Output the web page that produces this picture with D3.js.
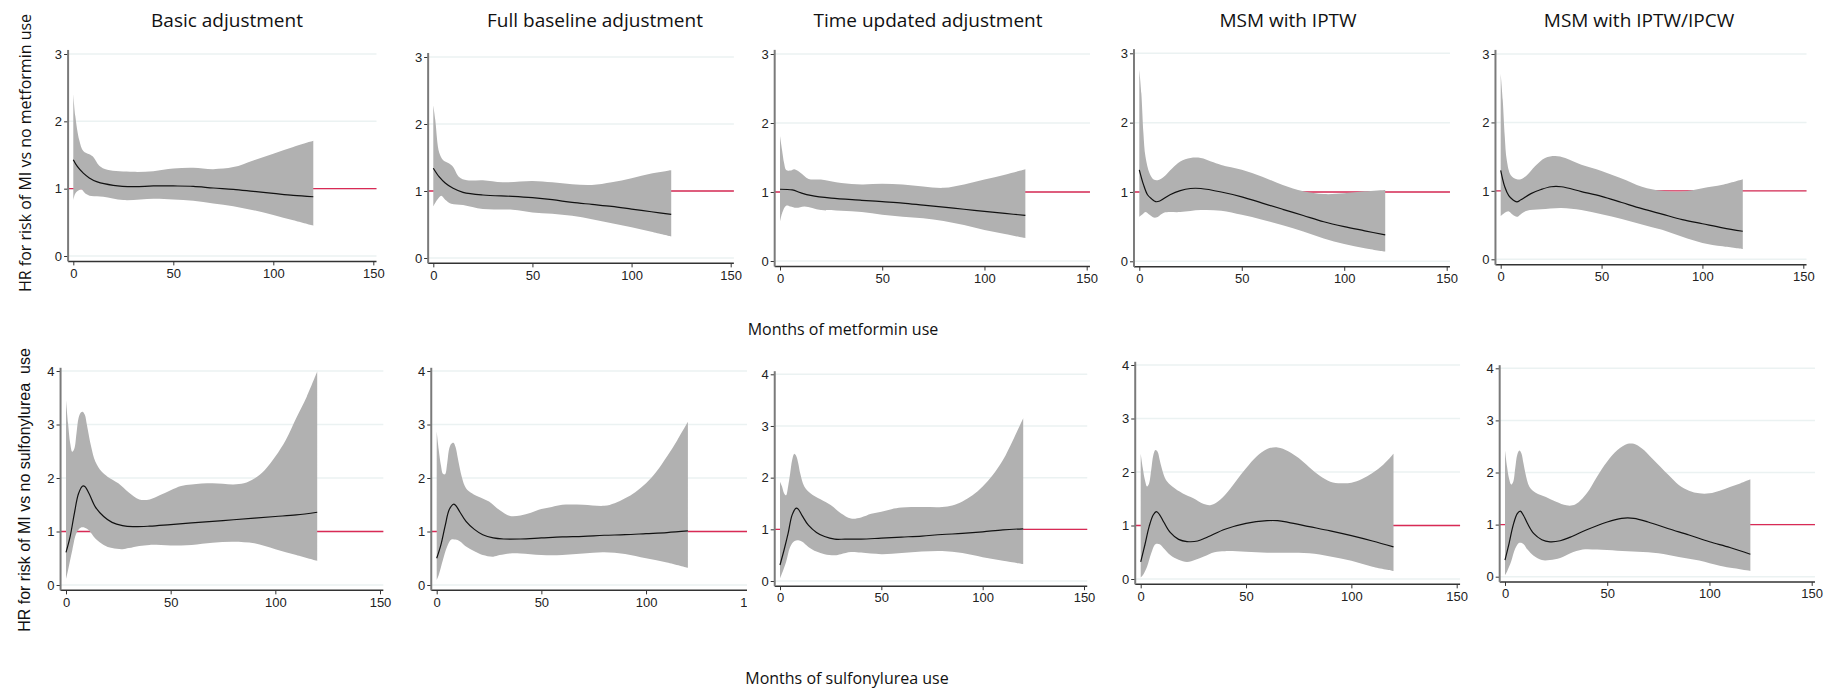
<!DOCTYPE html>
<html><head><meta charset="utf-8">
<script src="https://cdn.jsdelivr.net/npm/d3@7"></script>
<style>body{margin:0;background:#fff}svg{display:block}</style>
</head><body>
<svg id="c" width="1836" height="694"></svg>
<script>
// ---------- DATA ----------
const titles = ["Basic adjustment","Full baseline adjustment","Time updated adjustment","MSM with IPTW","MSM with IPTW/IPCW"];
const xTicks = [0,50,100,150];
const yTicksTop = [0,1,2,3];
const yTicksBottom = [0,1,2,3,4];
const yLabelTop = "HR for risk of MI vs no metformin use";
const yLabelBottom = "HR for risk of MI vs no sulfonylurea  use";
const xLabelTop = "Months of metformin use";
const xLabelBottom = "Months of sulfonylurea use";
const refHR = 1;

// Metformin – Basic adjustment
const metBasicHi = [[0,2.41],[1,2.08],[3,1.72],[5,1.56],[8,1.51],[10,1.47],[13,1.34],[17,1.28],[30,1.25],[40,1.26],[50,1.30],[60,1.31],[70,1.29],[80,1.32],[90,1.42],[100,1.52],[110,1.62],[120,1.71]];
const metBasicLo = [[0,0.83],[1,0.93],[3,0.98],[4,0.99],[6,0.93],[9,0.89],[15,0.88],[25,0.83],[40,0.85],[50,0.84],[60,0.82],[70,0.78],[80,0.74],[90,0.68],[100,0.61],[110,0.53],[120,0.45]];
const metBasicEst = [[0,1.43],[2,1.33],[5,1.23],[8,1.16],[12,1.10],[20,1.05],[30,1.03],[40,1.04],[50,1.04],[60,1.035],[70,1.01],[80,0.99],[90,0.96],[100,0.93],[110,0.90],[120,0.88]];
// Metformin – Full baseline adjustment
const metFullHi = [[0,2.28],[1,2.06],[3,1.57],[5,1.46],[8,1.41],[10,1.36],[13,1.21],[17,1.16],[25,1.16],[35,1.13],[50,1.15],[60,1.13],[70,1.10],[80,1.09],[90,1.13],[100,1.19],[110,1.26],[120,1.31]];
const metFullLo = [[0,0.77],[2,0.87],[4,0.93],[6,0.87],[9,0.81],[15,0.79],[25,0.73],[40,0.72],[50,0.68],[60,0.66],[70,0.63],[80,0.58],[90,0.52],[100,0.46],[110,0.39],[120,0.32]];
const metFullEst = [[0,1.34],[3,1.21],[6,1.12],[10,1.04],[15,0.98],[25,0.94],[40,0.92],[50,0.90],[60,0.87],[70,0.83],[80,0.80],[90,0.77],[100,0.73],[110,0.69],[120,0.65]];
// Metformin – Time updated adjustment
const metTimeHi = [[0,1.81],[1,1.61],[2,1.42],[3,1.32],[5,1.31],[7,1.33],[10,1.28],[14,1.19],[20,1.18],[30,1.13],[40,1.11],[50,1.12],[60,1.11],[70,1.08],[80,1.06],[90,1.11],[100,1.18],[110,1.25],[120,1.33]];
const metTimeLo = [[0,0.57],[1,0.69],[3,0.80],[5,0.79],[8,0.77],[12,0.79],[20,0.74],[30,0.73],[40,0.71],[50,0.67],[60,0.64],[70,0.62],[80,0.58],[90,0.52],[100,0.45],[110,0.39],[120,0.33]];
const metTimeEst = [[0,1.04],[6,1.03],[10,0.99],[15,0.95],[25,0.91],[40,0.88],[50,0.86],[60,0.84],[70,0.81],[80,0.78],[90,0.75],[100,0.72],[110,0.69],[120,0.66]];
// Metformin – MSM with IPTW
const metIptwHi = [[0,2.77],[1,2.42],[2,1.85],[3,1.51],[5,1.27],[7,1.18],[9,1.17],[12,1.22],[16,1.34],[20,1.44],[25,1.49],[30,1.49],[35,1.44],[40,1.39],[50,1.32],[60,1.22],[70,1.10],[80,1.01],[90,0.97],[100,0.98],[110,1.01],[120,1.03]];
const metIptwLo = [[0,0.64],[2,0.69],[3,0.71],[5,0.67],[7,0.63],[9,0.64],[12,0.70],[20,0.71],[30,0.74],[40,0.73],[50,0.67],[60,0.60],[70,0.52],[80,0.43],[90,0.33],[100,0.25],[110,0.19],[120,0.14]];
const metIptwEst = [[0,1.32],[2,1.11],[4,0.96],[6,0.90],[8,0.86],[10,0.87],[15,0.96],[20,1.02],[25,1.05],[30,1.05],[40,1.00],[50,0.93],[60,0.84],[70,0.75],[80,0.66],[90,0.57],[100,0.50],[110,0.44],[120,0.38]];
// Metformin – MSM with IPTW/IPCW
const metIpcwHi = [[0,2.71],[1,2.33],[2,1.80],[3,1.45],[5,1.23],[8,1.17],[10,1.17],[13,1.23],[17,1.36],[22,1.48],[27,1.51],[32,1.48],[40,1.38],[50,1.29],[60,1.18],[70,1.06],[80,1.00],[90,0.99],[100,1.04],[110,1.09],[120,1.17]];
const metIpcwLo = [[0,0.63],[2,0.68],[4,0.70],[6,0.65],[8,0.62],[10,0.66],[13,0.71],[20,0.73],[30,0.75],[40,0.72],[50,0.66],[60,0.59],[70,0.51],[80,0.43],[90,0.33],[100,0.24],[110,0.19],[120,0.15]];
const metIpcwEst = [[0,1.30],[2,1.06],[4,0.93],[6,0.87],[8,0.84],[10,0.87],[15,0.96],[20,1.02],[25,1.06],[30,1.06],[40,0.99],[50,0.92],[60,0.83],[70,0.74],[80,0.66],[90,0.58],[100,0.52],[110,0.46],[120,0.41]];

// Sulfonylurea – Basic adjustment
const suBasicHi = [[0,3.46],[1,3.02],[2,2.65],[3,2.49],[4,2.55],[5,2.83],[6,3.12],[7,3.22],[8,3.24],[9,3.18],[10,2.99],[12,2.59],[14,2.31],[17,2.12],[20,2.02],[25,1.90],[30,1.73],[35,1.60],[40,1.60],[45,1.68],[50,1.77],[55,1.85],[60,1.88],[70,1.90],[80,1.88],[85,1.90],[90,1.99],[95,2.15],[100,2.40],[105,2.71],[110,3.12],[115,3.52],[120,3.99]];
const suBasicLo = [[0,0.11],[1,0.28],[3,0.65],[5,0.97],[7,1.07],[9,1.07],[11,1.02],[14,0.87],[18,0.75],[22,0.69],[27,0.67],[30,0.69],[35,0.73],[40,0.75],[50,0.74],[60,0.75],[70,0.79],[80,0.81],[90,0.78],[100,0.67],[110,0.56],[120,0.45]];
const suBasicEst = [[0,0.61],[2,0.91],[4,1.34],[6,1.71],[8,1.85],[9,1.84],[11,1.71],[14,1.46],[18,1.28],[22,1.17],[27,1.11],[32,1.09],[40,1.10],[50,1.13],[60,1.16],[70,1.19],[80,1.22],[90,1.25],[100,1.28],[110,1.31],[120,1.36]];
// Sulfonylurea – Full baseline adjustment
const suFullHi = [[0,2.87],[1,2.52],[2,2.24],[3,2.08],[4,2.07],[5,2.27],[6,2.55],[7,2.64],[8,2.66],[9,2.58],[10,2.39],[12,2.02],[14,1.81],[17,1.71],[20,1.65],[25,1.56],[30,1.40],[35,1.29],[40,1.30],[45,1.35],[50,1.42],[55,1.46],[60,1.50],[70,1.50],[80,1.48],[85,1.53],[90,1.62],[95,1.74],[100,1.90],[105,2.12],[110,2.40],[115,2.71],[120,3.05]];
const suFullLo = [[0,0.09],[1,0.19],[3,0.47],[5,0.72],[7,0.85],[9,0.85],[11,0.82],[14,0.72],[18,0.63],[22,0.56],[27,0.53],[30,0.56],[35,0.59],[40,0.59],[50,0.56],[60,0.56],[70,0.59],[80,0.61],[90,0.58],[100,0.50],[110,0.42],[120,0.32]];
const suFullEst = [[0,0.50],[2,0.75],[4,1.10],[6,1.41],[8,1.51],[9,1.49],[11,1.37],[14,1.19],[18,1.04],[22,0.94],[27,0.88],[32,0.86],[40,0.86],[50,0.88],[60,0.90],[70,0.91],[80,0.93],[90,0.94],[100,0.96],[110,0.98],[120,1.01]];
// Sulfonylurea – Time updated adjustment
const suTimeHi = [[0,1.92],[1,1.83],[2,1.70],[3,1.66],[4,1.83],[5,2.08],[6,2.34],[7,2.46],[8,2.42],[9,2.28],[10,2.08],[12,1.83],[15,1.70],[20,1.58],[25,1.47],[30,1.31],[35,1.21],[40,1.23],[45,1.30],[50,1.34],[55,1.39],[60,1.42],[70,1.43],[80,1.43],[85,1.46],[90,1.54],[95,1.66],[100,1.83],[105,2.05],[110,2.34],[115,2.73],[120,3.15]];
const suTimeLo = [[0,0.05],[1,0.15],[3,0.37],[5,0.66],[7,0.77],[9,0.79],[11,0.76],[14,0.66],[18,0.57],[22,0.52],[27,0.50],[30,0.52],[35,0.56],[40,0.55],[50,0.52],[60,0.54],[70,0.57],[80,0.58],[90,0.54],[100,0.46],[110,0.39],[120,0.33]];
const suTimeEst = [[0,0.31],[2,0.60],[4,0.92],[6,1.28],[8,1.41],[9,1.39],[11,1.26],[14,1.08],[18,0.94],[22,0.86],[27,0.81],[32,0.81],[40,0.81],[50,0.83],[60,0.85],[70,0.87],[80,0.90],[90,0.92],[100,0.95],[110,0.99],[120,1.01]];
// Sulfonylurea – MSM with IPTW
const suIptwHi = [[0,2.34],[1,2.07],[2,1.85],[3,1.73],[4,1.79],[5,2.04],[6,2.32],[7,2.41],[8,2.38],[9,2.23],[10,2.07],[12,1.85],[15,1.73],[20,1.60],[25,1.51],[30,1.40],[33,1.38],[36,1.43],[40,1.57],[45,1.82],[50,2.07],[55,2.29],[60,2.43],[65,2.46],[70,2.39],[75,2.26],[80,2.09],[85,1.93],[90,1.82],[95,1.79],[100,1.80],[105,1.87],[110,1.98],[115,2.13],[120,2.34]];
const suIptwLo = [[0,0.03],[1,0.07],[3,0.23],[5,0.48],[7,0.65],[9,0.65],[11,0.57],[14,0.45],[18,0.36],[22,0.32],[26,0.36],[30,0.42],[35,0.50],[40,0.52],[50,0.51],[60,0.49],[70,0.49],[80,0.48],[90,0.42],[100,0.34],[110,0.23],[120,0.15]];
const suIptwEst = [[0,0.32],[2,0.64],[4,0.98],[6,1.20],[7.5,1.26],[9,1.20],[11,1.06],[14,0.87],[18,0.74],[22,0.70],[27,0.71],[32,0.79],[40,0.93],[50,1.04],[60,1.09],[65,1.09],[70,1.06],[80,0.98],[90,0.90],[100,0.81],[110,0.71],[120,0.60]];
// Sulfonylurea – MSM with IPTW/IPCW
const suIpcwHi = [[0,2.42],[1,2.11],[2,1.88],[3,1.77],[4,1.82],[5,2.08],[6,2.34],[7,2.42],[8,2.37],[9,2.18],[10,1.98],[12,1.72],[15,1.61],[20,1.53],[25,1.44],[30,1.37],[33,1.37],[36,1.43],[40,1.60],[45,1.92],[50,2.21],[55,2.43],[60,2.55],[63,2.55],[67,2.46],[72,2.27],[80,1.95],[85,1.76],[90,1.65],[95,1.60],[100,1.60],[105,1.65],[110,1.72],[115,1.79],[120,1.87]];
const suIpcwLo = [[0,0.03],[1,0.10],[3,0.29],[5,0.54],[7,0.65],[9,0.63],[11,0.52],[14,0.40],[18,0.32],[22,0.32],[27,0.36],[32,0.45],[38,0.52],[45,0.52],[55,0.50],[65,0.48],[75,0.45],[85,0.38],[95,0.31],[105,0.21],[112,0.16],[120,0.11]];
const suIpcwEst = [[0,0.32],[2,0.64],[4,0.99],[6,1.21],[7.5,1.26],[9,1.18],[11,1.02],[14,0.83],[18,0.71],[22,0.67],[27,0.69],[32,0.76],[40,0.90],[50,1.05],[57,1.12],[63,1.12],[70,1.05],[80,0.92],[90,0.80],[100,0.67],[110,0.56],[120,0.43]];

const seriesTop = [[metBasicEst,metBasicLo,metBasicHi],[metFullEst,metFullLo,metFullHi],[metTimeEst,metTimeLo,metTimeHi],[metIptwEst,metIptwLo,metIptwHi],[metIpcwEst,metIpcwLo,metIpcwHi]];
const seriesBottom = [[suBasicEst,suBasicLo,suBasicHi],[suFullEst,suFullLo,suFullHi],[suTimeEst,suTimeLo,suTimeHi],[suIptwEst,suIptwLo,suIptwHi],[suIpcwEst,suIpcwLo,suIpcwHi]];

// ---------- LAYOUT (pixel frames) ----------
const frameTop = [
  {x0:73.3, x150:373.3, yb:256, yt:54},
  {x0:433.3, x150:730.7, yb:258, yt:57},
  {x0:780, x150:1086.7, yb:261, yt:54},
  {x0:1139.3, x150:1446.7, yb:261.3, yt:53.3},
  {x0:1500.7, x150:1803.3, yb:259.3, yt:54}
];
const frameBottom = [
  {x0:66, x150:380, yb:585, yt:371},
  {x0:436.7, x150:750.7, yb:585, yt:371, clip:747},
  {x0:780, x150:1084, yb:581, yt:374.3},
  {x0:1140.7, x150:1456.7, yb:579, yt:365},
  {x0:1505, x150:1811.7, yb:576.7, yt:368.3}
];
const titleX = [227,595,928,1288,1639];

const svg = d3.select("#c");
const defs = svg.append("defs");
const RED = "#d92a55";

function panel(fr, series, yTicks, ymax, xAxisOff, idx, row){
  const x = d3.scaleLinear().domain([0,150]).range([fr.x0, fr.x150]);
  const y = d3.scaleLinear().domain([0,ymax]).range([fr.yb, fr.yt]);
  const g = svg.append("g");
  if (fr.clip){
    const id = "clip"+row+idx;
    defs.append("clipPath").attr("id",id).append("rect")
      .attr("x",0).attr("y",0).attr("width",fr.clip).attr("height",694);
    g.attr("clip-path",`url(#${id})`);
  }
  const axX = x(-2.6), axRight = x(151.6);
  const axY = y(xAxisOff), axTop = y(ymax + 0.06);
  g.selectAll(".grid").data(yTicks).join("line")
    .attr("x1",axX).attr("x2",axRight).attr("y1",d=>y(d)).attr("y2",d=>y(d))
    .attr("stroke","#ebf2f2").attr("stroke-width",1.5);
  g.append("line").attr("x1",axX).attr("x2",axRight).attr("y1",y(refHR)).attr("y2",y(refHR))
    .attr("stroke",RED).attr("stroke-width",1.4);
  const [est, lo, hi] = series;
  const line = d3.line().x(d=>x(d[0])).y(d=>y(d[1])).curve(d3.curveCatmullRom.alpha(0.5));
  const up = line(hi);
  const dn = line(lo.slice().reverse()).replace(/^M/,"L");
  g.append("path").attr("d", up + dn + "Z").attr("fill","#b1b1b1").attr("stroke","none");
  g.append("path").attr("d", line(est)).attr("fill","none").attr("stroke","#111").attr("stroke-width",1.2);
  const ya = d3.axisLeft(y).tickValues(yTicks).tickSize(4).tickSizeOuter(0).tickPadding(2).tickFormat(d3.format("d"));
  const yg = g.append("g").attr("transform",`translate(${axX},0)`).call(ya);
  yg.select(".domain").remove();
  yg.selectAll("line").attr("stroke","#333");
  yg.selectAll("text").attr("font-family","Liberation Sans, Arial, sans-serif").attr("font-size",13).attr("fill","#222");
  const xa = d3.axisBottom(x).tickValues(xTicks).tickSize(4).tickSizeOuter(0).tickPadding(3).tickFormat(d3.format("d"));
  const xg = g.append("g").attr("transform",`translate(0,${axY})`).call(xa);
  xg.select(".domain").remove();
  xg.selectAll("line").attr("stroke","#333");
  xg.selectAll("text").attr("font-family","Liberation Sans, Arial, sans-serif").attr("font-size",13).attr("fill","#222");
  g.append("line").attr("x1",axX).attr("x2",axRight).attr("y1",axY).attr("y2",axY)
    .attr("stroke","#333").attr("stroke-width",1.5);
  g.append("line").attr("x1",axX).attr("x2",axX).attr("y1",axY).attr("y2",axTop)
    .attr("stroke","#7a7a7a").attr("stroke-width",2);
}

frameTop.forEach((fr,i)=>panel(fr, seriesTop[i], yTicksTop, 3, -0.08, i, "t"));
frameBottom.forEach((fr,i)=>panel(fr, seriesBottom[i], yTicksBottom, 4, -0.1, i, "b"));

const FONT = "'Open Sans', 'Noto Sans', sans-serif";
svg.selectAll(".title").data(titles).join("text")
  .attr("x",(d,i)=>titleX[i]).attr("y",27).attr("text-anchor","middle")
  .attr("font-family",FONT).attr("font-size",19).attr("fill","#111").text(d=>d);

svg.append("text").attr("x",-153).attr("y",31).attr("transform","rotate(-90)").attr("text-anchor","middle")
  .attr("font-family",FONT).attr("font-size",16).attr("fill","#111").text(yLabelTop);
svg.append("text").attr("x",-490).attr("y",30).attr("transform","rotate(-90)").attr("text-anchor","middle")
  .attr("font-family","'Liberation Sans', Arial, sans-serif").attr("font-size",16).attr("fill","#111")
  .attr("xml:space","preserve").style("white-space","pre").text(yLabelBottom);
svg.append("text").attr("x",843).attr("y",335).attr("text-anchor","middle")
  .attr("font-family",FONT).attr("font-size",16).attr("fill","#111").text(xLabelTop);
svg.append("text").attr("x",847).attr("y",684).attr("text-anchor","middle")
  .attr("font-family",FONT).attr("font-size",16).attr("fill","#111").text(xLabelBottom);
</script>
</body></html>
